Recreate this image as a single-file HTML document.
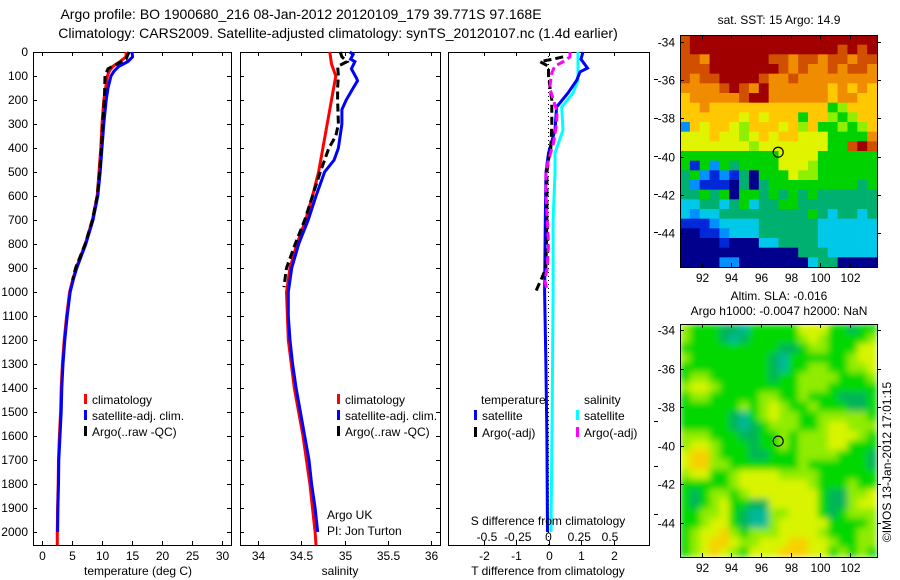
<!DOCTYPE html>
<html><head><meta charset="utf-8"><style>
html,body{margin:0;padding:0;background:#fff;}
svg{display:block;font-family:"Liberation Sans",sans-serif;}
</style></head><body>
<svg id="fig" width="900" height="580" viewBox="0 0 900 580" xmlns="http://www.w3.org/2000/svg">
<defs>
<filter id="smooth" x="0" y="0" width="1" height="1"><feGaussianBlur stdDeviation="3.5" edgeMode="duplicate"/></filter>
<clipPath id="slaclip"><rect x="680" y="324" width="197" height="233"/></clipPath>
</defs>
<text x="301" y="19" font-size="14" text-anchor="middle">Argo profile: BO 1900680_216 08-Jan-2012 20120109_179 39.771S 97.168E</text>
<text x="338" y="38" font-size="14" text-anchor="middle">Climatology: CARS2009. Satellite-adjusted climatology: synTS_20120107.nc (1.4d earlier)</text>
<g id="layer"></g>
<text x="779" y="24" font-size="12" text-anchor="middle">sat. SST: 15 Argo: 14.9</text>
<text x="779" y="300" font-size="12" text-anchor="middle">Altim. SLA: -0.016</text>
<text x="779" y="315" font-size="12" text-anchor="middle">Argo h1000: -0.0047 h2000: NaN</text>
<text transform="translate(891,462) rotate(-90)" font-size="12" text-anchor="middle">©IMOS 13-Jan-2012 17:01:15</text>
<text x="84" y="575" font-size="12">temperature (deg C)</text>
<text x="340" y="575" font-size="12" text-anchor="middle">salinity</text>
<text x="548" y="575" font-size="12" text-anchor="middle">T difference from climatology</text>
<text x="548" y="525" font-size="12" text-anchor="middle">S difference from climatology</text>
<text x="327" y="519" font-size="12">Argo UK</text>
<text x="327" y="535" font-size="12">PI: Jon Turton</text>
</svg>
<script>
// ---------- data ----------
const depthTicks=[0,100,200,300,400,500,600,700,800,900,1000,1100,1200,1300,1400,1500,1600,1700,1800,1900,2000];
const tTicks=[0,5,10,15,20,25,30];
const sTicks=[34,34.5,35,35.5,36];
const sTickLabels=["34","34.5","35","35.5","36"];
const dTTicks=[-2,-1,0,1,2];
const dSTicks=[-0.5,-0.25,0,0.25,0.5];
const dSTickLabels=["-0.5","-0.25","0","0.25","0.5"];

const tClimDepth=[0,20,40,60,80,100,200,300,400,500,600,700,800,900,950,1000,1100,1200,1300,1400,1500,1600,1700,1800,1900,2000,2055];
const tClim=[14,14,13,11.8,11.2,10.9,10.3,10.0,9.8,9.5,9.2,8.4,7.2,5.7,5.1,4.6,4.1,3.7,3.4,3.2,3.1,2.9,2.75,2.7,2.6,2.55,2.55];
const tSatDepth=[0,20,40,60,80,100,150,200,300,400,500,600,700,800,900,950,1000,1100,1200,1300,1400,1500,1600,1700,1800,1900,2000];
const tSat=[15,15.1,14.3,12.8,12,11.5,11,10.7,10.3,10.0,9.7,9.3,8.5,7.3,5.8,5.2,4.7,4.2,3.8,3.5,3.3,3.2,3.0,2.8,2.75,2.65,2.6];
const tArgoDepth=[0,30,50,70,100,200,300,400,500,600,700,800,900,950];
const tArgo=[14.5,14,12.5,11,10.5,10.4,10.1,9.9,9.6,9.2,8.4,7.2,5.6,5.1];

const sClimDepth=[0,50,100,200,300,400,500,600,700,800,900,1000,1200,1400,1600,1800,2000,2055];
const sClim=[34.83,34.85,34.9,34.85,34.8,34.75,34.7,34.63,34.55,34.45,34.37,34.33,34.35,34.42,34.52,34.6,34.66,34.67];
const sSatDepth=[0,10,30,40,70,110,120,150,200,240,300,400,450,500,600,700,800,900,1000,1100,1200,1300,1400,1500,1600,1700,1800,1900,2000];
const sSat=[35.06,35.1,35.07,35.12,35.08,35.14,35.15,35.1,35.02,34.97,34.97,34.93,34.88,34.77,34.67,34.58,34.47,34.39,34.35,34.35,34.37,34.4,34.44,34.49,34.54,34.59,34.62,34.66,34.69];
const sArgoDepth=[0,20,40,60,100,150,200,300,350,400,500,600,700,800,900,980];
const sArgo=[34.95,34.97,35.03,34.92,34.93,34.92,34.92,34.93,34.9,34.82,34.72,34.63,34.54,34.43,34.33,34.3];

const dTSatDepth=[0,30,67,83,117,171,229,325,421,504,700,1000,1300,1600,2000];
const dTSat=[1.06,1.0,1.2,0.97,0.87,0.6,0.25,0.2,0.0,-0.08,-0.1,-0.12,-0.08,-0.05,-0.03];
const dSSatDepth=[0,67,117,171,229,325,421,504,700,1000,1500,2000];
const dSSat=[0.24,0.24,0.24,0.2,0.107,0.118,0.053,0.053,0.037,0.037,0.03,0.02];
const dSArgoDepth=[0,20,40,60,90,150,200,250,300,380,450,500,600,700,800,900,950,1000];
const dSArgo=[0.175,0.175,0.12,0.05,0.025,0.01,0.04,0.07,0.065,0.04,0.0,-0.02,-0.02,-0.01,0.0,-0.01,-0.03,-0.01];
const dTArgoDepth=[20,30,40,60,100,150,200,300,400,450,500,700,900,940,1000];
const dTArgo=[0.45,0.14,-0.26,0.0,0.0,0.05,0.1,0.1,0.07,0.0,-0.05,-0.05,-0.08,-0.2,-0.4];

const lonTicks=[92,94,96,98,100,102];
const latTicks=[-34,-36,-38,-40,-42,-44];
const argoLon=97.168, argoLat=-39.771;
const sstRows=[
"abbbbbbbbbbbbbbbbbbb","abbbbbbbbbbbbbbbabab","aa9bbbbbbaa9aa9aa9aa","aaabbbbbbba9a99a9aa9",
"a9aabbbba99a99999999","9999aba9b99999989898","899999abb99999989988","88988888888888856888",
"88888878788858865688","28788768887868556568","77787767878877755559","77777776777777755aba",
"55555555557777555555","51525455557776555555","45212140555766555555","42111040455555555545",
"44545055454545444444","33443453445544444444","32334444444445434434","11123333444444333333",
"00112333444444333333","00001000334444333333","00000000000044433333","00002200000003440000"];
const slaRows=[
"65554435555577755455","65554345555567655556","55555555554456655577","65555555543555555677",
"55555555543556655667","56655555545566665556","67765555555566655555","56655555665565554445",
"55555565676556555445","55555435676655666665","55555434566655677666","66655544556566677765",
"67765554556566677555","78865554455566665554","78866555555565555554","67755677776666555555",
"55555677777776555655","54566567777777544667","54567554477777544677","55667543366777545666",
"55677543367777755556","56778656667777655566","56788766777887765566","56787657778887756565"];

// ---------- helpers ----------
const NS="http://www.w3.org/2000/svg";
const layer=document.getElementById('layer');
function mk(tag,attrs,parent){const e=document.createElementNS(NS,tag);for(const k in attrs)e.setAttribute(k,attrs[k]);(parent||layer).appendChild(e);return e;}
const yD=d=>52+d*0.24;
const xT=t=>42+6*t;
const xS=s=>258+86.5*(s-34);
const xDT=v=>548.5+32.5*v;
const xDS=v=>548.5+123*v;

function frame(x0,y0,x1,y1,name){
  const r=mk('rect',{x:x0+0.5,y:y0+0.5,width:x1-x0,height:y1-y0,fill:'none',stroke:'#000','stroke-width':1});
  
  
}
function series(ds,vs,xf,color,dash,name,w){
  const pts=ds.map((d,i)=>xf(vs[i]).toFixed(1)+','+yD(d).toFixed(1)).join(' ');
  const p=mk('polyline',{points:pts,fill:'none',stroke:color,'stroke-width':w||3});
  if(dash)p.setAttribute('stroke-dasharray',dash);
  
  
}
function xticks(vals,labels,xf,x0,x1,prefix){
  vals.forEach((v,i)=>{
    const x=Math.round(xf(v))+0.5;
    mk('line',{x1:x,y1:545,x2:x,y2:541,stroke:'#000'});
    mk('line',{x1:x,y1:52,x2:x,y2:56,stroke:'#000'});
    const t=mk('text',{x:x,y:560,'font-size':12,'text-anchor':'middle'});
    t.textContent=labels[i];
    
    
  });
}
function yticks(x0,x1){
  depthTicks.forEach(d=>{
    const y=Math.round(yD(d))+0.5;
    mk('line',{x1:x0,y1:y,x2:x0+4,y2:y,stroke:'#000'});
    mk('line',{x1:x1,y1:y,x2:x1-4,y2:y,stroke:'#000'});
  });
}
function legend(x,y,color,label,name){
  const r=mk('rect',{x:x,y:y-10,width:3,height:10,fill:color});
  
  
  const t=mk('text',{x:x+8,y:y,'font-size':12});
  t.textContent=label;
  
  
}

depthTicks.forEach(d=>{
  const t=mk('text',{x:28,y:yD(d)+4,'font-size':12,'text-anchor':'end'});
  t.textContent=String(d);
  
  
});

// ---- panel 1 temperature ----
frame(33,52,231,545,'temperature-panel-frame');
yticks(33,231);
xticks(tTicks,tTicks.map(String),xT,33,231,'temperature');
series(tClimDepth,tClim,xT,'#ff0000',null,'temperature-climatology-line');
series(tSatDepth,tSat,xT,'#0000ff',null,'temperature-satellite-line');
series(tArgoDepth,tArgo,xT,'#000000','8,4','temperature-argo-line');
legend(84,404,'#ff0000','climatology','temperature-legend-climatology');
legend(84,420,'#0000ff','satellite-adj. clim.','temperature-legend-satellite');
legend(84,436,'#000000','Argo(..raw -QC)','temperature-legend-argo');

// ---- panel 2 salinity ----
frame(240,52,440,545,'salinity-panel-frame');
yticks(240,440);
xticks(sTicks,sTickLabels,xS,240,440,'salinity');
series(sClimDepth,sClim,xS,'#ff0000',null,'salinity-climatology-line');
series(sSatDepth,sSat,xS,'#0000ff',null,'salinity-satellite-line');
series(sArgoDepth,sArgo,xS,'#000000','8,4','salinity-argo-line');
legend(337,404,'#ff0000','climatology','salinity-legend-climatology');
legend(337,420,'#0000ff','satellite-adj. clim.','salinity-legend-satellite');
legend(337,436,'#000000','Argo(..raw -QC)','salinity-legend-argo');

// ---- panel 3 differences ----
frame(448,52,649,545,'difference-panel-frame');
xticks(dTTicks,dTTicks.map(String),xDT,448,649,'t-diff');
dSTicks.forEach((v,i)=>{
  const t=mk('text',{x:xDS(v),y:541,'font-size':12,'text-anchor':'middle'});
  t.textContent=dSTickLabels[i];
  
  
});
[79,118,156,194,232,421,466,514].forEach(y=>mk('line',{x1:654,y1:y+0.5,x2:658,y2:y+0.5,stroke:'#000'}));
const zl=mk('line',{x1:548.5,y1:52,x2:548.5,y2:545,stroke:'#000','stroke-dasharray':'1,3'});


series(dSSatDepth,dSSat,xDS,'#00ffff',null,'s-diff-satellite-line');
series(dTSatDepth,dTSat,xDT,'#0000ff',null,'t-diff-satellite-line');
series(dTArgoDepth,dTArgo,xDT,'#000000','8,4','t-diff-argo-line');
series(dSArgoDepth,dSArgo,xDS,'#ff00ff','8,4','s-diff-argo-line');
const lt=mk('text',{x:481,y:404,'font-size':12});lt.textContent='temperature';


const ls=mk('text',{x:584,y:404,'font-size':12});ls.textContent='salinity';


legend(474,420,'#0000ff','satellite','diff-legend-t-satellite');
legend(474,437,'#000000','Argo(-adj)','diff-legend-t-argo');
legend(576,420,'#00ffff','satellite','diff-legend-s-satellite');
legend(576,437,'#ff00ff','Argo(-adj)','diff-legend-s-argo');

// ---- maps ----
const sstColors={'0':'#00008c','1':'#0028d8','2':'#0090ff','3':'#00c8e8','4':'#00b070','5':'#00d200','6':'#90ee00','7':'#e0f400','8':'#ffc800','9':'#f08c00','a':'#d05000','b':'#a00000'};
const slaColors={'3':'#00b89a','4':'#00b458','5':'#00d800','6':'#90ec00','7':'#d8f400','8':'#f8d000'};
function drawMap(rows,colors,x0,y0,x1,y1,latAt34,latScale,name,smooth){
  const nr=rows.length,nc=rows[0].length;
  const cw=(x1-x0)/nc,ch=(y1-y0)/nr;
  let parent=layer;
  if(smooth){parent=mk('g',{'clip-path':'url(#slaclip)'});}
  const g=mk('g',smooth?{filter:'url(#smooth)'}:{},parent);
  
  
  rows.forEach((row,r)=>{for(let c=0;c<nc;c++){
    const cell=mk('rect',{x:(x0+c*cw).toFixed(2),y:(y0+r*ch).toFixed(2),width:(cw+0.4).toFixed(2),height:(ch+0.4).toFixed(2),fill:colors[row[c]]},g);
    
    
  }});
  frame(x0,y0,x1,y1,name+'-frame');
  const xL=lon=>701.7+14.8*(lon-92);
  const yL=lat=>latAt34+latScale*(-34-lat);
  lonTicks.forEach(l=>{
    const x=Math.round(xL(l))+0.5;
    mk('line',{x1:x,y1:y0,x2:x,y2:y0+4,stroke:'#000'});
    mk('line',{x1:x,y1:y1,x2:x,y2:y1-4,stroke:'#000'});
    const t=mk('text',{x:x,y:y1+15,'font-size':12,'text-anchor':'middle'});t.textContent=String(l);
    
    
  });
  latTicks.forEach(l=>{
    const y=Math.round(yL(l))+0.5;
    mk('line',{x1:x0,y1:y,x2:x0+4,y2:y,stroke:'#000'});
    mk('line',{x1:x1,y1:y,x2:x1+4,y2:y,stroke:'#000'});
    const t=mk('text',{x:x0-5,y:y+4,'font-size':12,'text-anchor':'end'});t.textContent=String(l);
    
    
  });
  const c=mk('circle',{cx:xL(argoLon),cy:yL(argoLat),r:5,fill:'none',stroke:'#000','stroke-width':1.2});
  
  
}
drawMap(sstRows,sstColors,680,35,877,267,42,19.1,'sst-map',false);
drawMap(slaRows,slaColors,680,324,877,557,330,19.25,'sla-map',true);
</script>
</body></html>
